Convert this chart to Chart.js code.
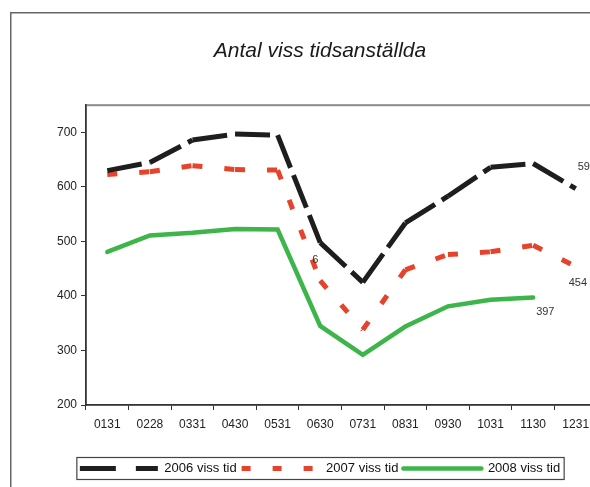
<!DOCTYPE html>
<html><head><meta charset="utf-8">
<script src="https://cdn.jsdelivr.net/npm/chart.js@4"></script>
<style>
html,body{margin:0;padding:0;width:590px;height:487px;overflow:hidden;background:#fff;}
#wrap{position:absolute;left:10px;top:12px;width:620px;height:475px;}
</style></head><body>
<div id="wrap"><canvas id="c" width="620" height="475"></canvas></div>
<script>
const categories = ['0131','0228','0331','0430','0531','0630','0731','0831','0930','1031','1130','1231'];
const series2006 = [630, 645, 686, 697, 695, 498, 425, 534, 583, 636, 643, 597];
const series2007 = [623, 628, 639, 632, 631, 428, 338, 448, 476, 481, 493, 454];
const series2008 = [481, 511, 516, 523, 522, 345, 292, 344, 381, 393, 397, null];
const seriesNames = ['2006 viss tid', '2007 viss tid', '2008 viss tid'];
const yTicks = [200, 300, 400, 500, 600, 700];
// data labels: [datasetIndex, pointIndex, text]
const dataLabels = [[0, 11, '597'], [1, 11, '454'], [2, 10, '397'], [1, 5, '6']];
const labelOffsets = [[2, -22, 'left'], [-7, 16, 'left'], [3, 14, 'left'], [-5, -21, 'center']];

const FONT = "'Liberation Sans', Arial, sans-serif";
const restartDash = { borderDashOffset: ctx => (ctx.p0DataIndex % 2) ? 0.001 : 0 };

const framePlugin = {
  id: 'frame',
  beforeDraw(chart) {
    const ctx = chart.ctx, a = chart.chartArea;
    ctx.save();
    ctx.strokeStyle = '#666'; ctx.lineWidth = 1.5;
    ctx.strokeRect(0.75, 0.75, chart.width + 10, chart.height + 10);
    ctx.strokeStyle = '#8a8a8a'; ctx.lineWidth = 2;
    ctx.strokeRect(a.left, a.top, a.right - a.left, a.bottom - a.top);
    ctx.restore();
  },
  afterDraw(chart) {
    const ctx = chart.ctx;
    ctx.save();
    ctx.font = '11px ' + FONT;
    ctx.fillStyle = '#333';
    ctx.textBaseline = 'middle';
    dataLabels.forEach((d, i) => {
      const el = chart.getDatasetMeta(d[0]).data[d[1]];
      if (!el) return;
      const o = labelOffsets[i];
      ctx.textAlign = o[2];
      ctx.fillText(d[2], el.x + o[0], el.y + o[1]);
    });
    // legend frame
    const lg = chart.legend;
    if (lg && lg.legendHitBoxes && lg.legendHitBoxes.length) {
      const hb = lg.legendHitBoxes;
      const l = hb[0].left - 3, r = hb[hb.length - 1].left + hb[hb.length - 1].width + 4;
      const cy = hb[0].top + hb[0].height / 2;
      ctx.strokeStyle = '#444'; ctx.lineWidth = 1.2;
      ctx.strokeRect(l, cy - 11, r - l, 22);
    }
    ctx.restore();
  }
};

new Chart(document.getElementById('c'), {
  type: 'line',
  data: {
    labels: categories,
    datasets: [
      { label: seriesNames[0], data: series2006, borderColor: '#1e1e1e', backgroundColor: '#1e1e1e',
        borderWidth: 5, borderDash: [35, 8], borderCapStyle: 'butt', segment: restartDash },
      { label: seriesNames[1], data: series2007, borderColor: '#e6432c', backgroundColor: '#e6432c',
        borderWidth: 5, borderDash: [10, 22], borderCapStyle: 'butt', segment: restartDash },
      { label: seriesNames[2], data: series2008, borderColor: '#3db54a', backgroundColor: '#3db54a',
        borderWidth: 4.5, borderCapStyle: 'round' }
    ]
  },
  options: {
    responsive: false,
    animation: false,
    events: [],
    layout: { padding: { left: 0, right: 0, top: 0, bottom: 2 } },
    elements: { point: { radius: 0 }, line: { tension: 0, borderJoinStyle: 'miter' } },
    plugins: {
      tooltip: { enabled: false },
      title: { display: true, text: 'Antal viss tidsanställda', color: '#1a1a1a',
        font: { family: FONT, size: 21, style: 'italic', weight: 'normal' },
        padding: { top: 27, bottom: 41 } },
      legend: {
        position: 'bottom',
        labels: {
          font: { family: FONT, size: 13 }, color: '#111',
          usePointStyle: true, pointStyleWidth: 78, padding: 5,
          generateLabels(chart) {
            const items = Chart.defaults.plugins.legend.labels.generateLabels(chart);
            items.forEach((it, i) => {
              it.pointStyle = 'line';
              if (i === 0) it.lineDash = [36, 20];
              if (i === 1) it.lineDash = [9, 22];
              if (i === 2) it.lineCap = 'round';
            });
            return items;
          }
        }
      }
    },
    scales: {
      x: {
        offset: true,
        grid: { display: true, drawOnChartArea: false, drawTicks: true, tickLength: 5, offset: true, color: '#333' },
        border: { display: true, color: '#333', width: 1.5 },
        ticks: { color: '#222', font: { family: FONT, size: 12 }, padding: 7, maxRotation: 0, autoSkip: false },
        afterFit(s) { s.height = 52; }
      },
      y: {
        min: 200, max: 750,
        afterBuildTicks(s) { s.ticks = yTicks.map(v => ({ value: v })); },
        grid: { display: true, drawOnChartArea: false, drawTicks: true, tickLength: 5, color: '#333' },
        border: { display: true, color: '#333', width: 1.5 },
        ticks: { color: '#222', font: { family: FONT, size: 12 }, padding: 4 },
        afterFit(s) { s.width = 76; }
      },
      spacer: {
        type: 'linear', position: 'right', min: 0, max: 1,
        grid: { display: false }, border: { display: false }, ticks: { display: false },
        afterFit(s) { s.width = 33; }
      }
    }
  },
  plugins: [framePlugin]
});
</script>
</body></html>
